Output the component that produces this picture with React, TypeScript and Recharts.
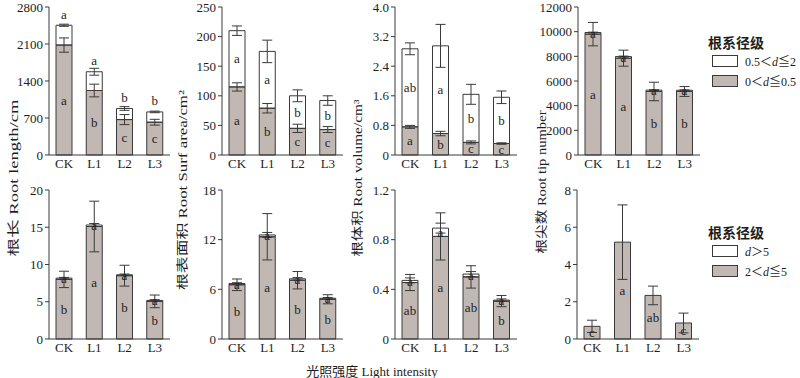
import { ComposedChart, Bar, ErrorBar, XAxis, YAxis } from 'recharts';

const FONT = "'Liberation Serif', 'Times New Roman', 'Noto Sans CJK SC', serif";
const GRAY = '#c1b8b3';
const EDGE = '#3a3a3a';
const INK = '#1e1e1e';
const Y_W = 45;

const CATS = ['CK', 'L1', 'L2', 'L3'];

// top row: 0<d≤0.5 (gray) + 0.5<d≤2 (white)
const lenFine = [2080, 1220, 670, 620];
const lenFineErr = [135, 120, 95, 55];
const lenCoarse = [375, 355, 210, 195];
const lenCoarseErr = [20, 65, 35, 15];
const lenFineLet = ['a', 'b', 'c', 'c'];
const lenCoarseLet = ['a', 'a', 'b', 'b'];

const areaFine = [115, 79, 45, 43];
const areaFineErr = [7, 8, 7, 5];
const areaCoarse = [95, 96, 55, 49];
const areaCoarseErr = [8, 19, 10, 8];
const areaFineLet = ['a', 'b', 'c', 'c'];
const areaCoarseLet = ['a', 'a', 'b', 'b'];

const volFine = [0.76, 0.58, 0.34, 0.31];
const volFineErr = [0.04, 0.06, 0.04, 0.02];
const volCoarse = [2.11, 2.37, 1.3, 1.25];
const volCoarseErr = [0.16, 0.58, 0.27, 0.17];
const volFineLet = ['a', 'b', 'c', 'c'];
const volCoarseLet = ['ab', 'a', 'b', 'b'];

const tipFine = [9800, 7850, 5150, 5150];
const tipFineErr = [950, 650, 750, 400];
const tipCoarse = [130, 130, 110, 100];
const tipCoarseErr = [30, 40, 30, 30];
const tipFineLet = ['a', 'a', 'b', 'b'];
const tipCoarseLet = ['a', 'a', 'a', 'a'];

// bottom row: 2<d≤5 (gray) + d>5 (white)
const len2Fine = [8.0, 15.1, 8.5, 5.05];
const len2FineErr = [1.1, 3.4, 1.4, 0.85];
const len2Coarse = [0.17, 0.2, 0.12, 0.13];
const len2CoarseErr = [0.1, 0.2, 0.1, 0.1];
const len2FineLet = ['b', 'a', 'b', 'b'];
const len2CoarseLet = ['a', 'a', 'a', 'a'];

const area2Fine = [6.55, 12.35, 7.1, 4.8];
const area2FineErr = [0.7, 2.8, 1.05, 0.55];
const area2Coarse = [0.15, 0.22, 0.17, 0.12];
const area2CoarseErr = [0.1, 0.3, 0.15, 0.1];
const area2FineLet = ['b', 'a', 'b', 'b'];
const area2CoarseLet = ['a', 'a', 'a', 'a'];

const vol2Fine = [0.455, 0.826, 0.5, 0.305];
const vol2FineErr = [0.065, 0.19, 0.09, 0.045];
const vol2Coarse = [0.017, 0.067, 0.023, 0.008];
const vol2CoarseErr = [0.02, 0.04, 0.02, 0.01];
const vol2FineLet = ['ab', 'a', 'ab', 'b'];
const vol2CoarseLet = ['a', 'a', 'a', 'a'];

const tip2Fine = [0.68, 5.2, 2.34, 0.86];
const tip2FineErr = [0.33, 2.0, 0.5, 0.53];
const tip2Coarse = [0, 0, 0, 0];
const tip2FineLet = ['c', 'a', 'ab', 'c'];
const tip2CoarseLet = ['', '', '', ''];

const TICKS = {
  len: [0, 700, 1400, 2100, 2800],
  area: [0, 50, 100, 150, 200, 250],
  vol: [0, 0.8, 1.6, 2.4, 3.2, 4.0],
  tip: [0, 2000, 4000, 6000, 8000, 10000, 12000],
  len2: [0, 5, 10, 15, 20],
  area2: [0, 6, 12, 18],
  vol2: [0, 0.4, 0.8, 1.2],
  tip2: [0, 2, 4, 6, 8],
};

const letterLabel = (letters: string[], pos: 'center' | 'top') => (p: any) => {
  const { x, y, width, height, index } = p;
  const t = letters[index];
  if (!t) return <g key={`e-${index}`} />;
  const cy = pos === 'top' ? y - 11 : y + height / 2;
  return (
    <text key={`l-${index}`} x={x + width / 2} y={cy} textAnchor="middle" dominantBaseline="central"
      fontFamily={FONT} fontSize={13} fill={INK} stroke="none">{t}</text>
  );
};

function Panel({
  left, top, plotW, plotH, ticks, decimals, fine, fineErr, coarse, coarseErr, fineLet, coarseLet, coarsePos = 'center',
}: {
  left: number; top: number; plotW: number; plotH: number; ticks: number[]; decimals: number;
  fine: number[]; fineErr: number[]; coarse: number[]; coarseErr?: number[];
  fineLet: string[]; coarseLet: string[]; coarsePos?: 'center' | 'top';
}) {
  const data = CATS.map((name, i) => ({
    name, fine: fine[i], fineErr: fineErr[i], coarse: coarse[i], coarseErr: coarseErr ? coarseErr[i] : 0,
  }));
  const W = Y_W + plotW + 3;
  const H = 15 + plotH + 22;
  const max = ticks[ticks.length - 1];
  return (
    <div style={{ position: 'absolute', left: left - Y_W, top: top - 15 }}>
      <ComposedChart width={W} height={H} data={data} margin={{ top: 15, right: 3, bottom: 0, left: 0 }} barSize={16}>
        <XAxis dataKey="name" height={22} interval={0} tickLine={false} tickSize={0} tickMargin={4}
          axisLine={{ stroke: EDGE }} tick={{ fill: INK, fontSize: 13, fontFamily: FONT }} />
        <YAxis width={Y_W} domain={[0, max]} ticks={ticks} interval={0} tickSize={4} tickMargin={2}
          axisLine={{ stroke: EDGE }} tickLine={{ stroke: EDGE }}
          tick={{ fill: INK, fontSize: 13, fontFamily: FONT }}
          tickFormatter={(v: number) => (v === 0 ? '0' : v.toFixed(decimals))} />
        <Bar dataKey="fine" stackId="s" fill={GRAY} stroke={EDGE} strokeWidth={1} isAnimationActive={false}
          label={letterLabel(fineLet, 'center')}>
          <ErrorBar dataKey="fineErr" width={5} stroke={EDGE} strokeWidth={1} />
        </Bar>
        <Bar dataKey="coarse" stackId="s" fill="none" stroke={EDGE} strokeWidth={1} isAnimationActive={false}
          label={letterLabel(coarseLet, coarsePos)}>
          {coarseErr && <ErrorBar dataKey="coarseErr" width={5} stroke={EDGE} strokeWidth={1} />}
        </Bar>
      </ComposedChart>
    </div>
  );
}

function LegendBlock({ top, items }: { top: number; items: { fill: string; label: React.ReactNode }[] }) {
  return (
    <div style={{ position: 'absolute', left: 708, top, fontFamily: FONT, color: INK }}>
      <div style={{ fontSize: 14, fontWeight: 600, lineHeight: '16px', fontFamily: "'Noto Sans CJK SC', sans-serif" }}>根系径级</div>
      {items.map((it, i) => (
        <div key={i} style={{ display: 'flex', alignItems: 'center', marginTop: i === 0 ? 5 : 9, height: 11, whiteSpace: 'nowrap' }}>
          <div style={{ width: 24, height: 10, marginLeft: 4, background: it.fill, border: `1px solid ${EDGE}` }} />
          <span style={{ marginLeft: 7, fontSize: 12 }}>{it.label}</span>
        </div>
      ))}
    </div>
  );
}

const YTITLES = [
  { x: 14, y: 178, len: 157, text: '根长 Root length/cm' },
  { x: 183, y: 190, len: 200, text: '根表面积 Root Surf area/cm²' },
  { x: 358, y: 178, len: 157, text: '根体积 Root volume/cm³' },
  { x: 542, y: 182, len: 143, text: '根尖数 Root tip number' },
];

export default function App() {
  const d = <i>d</i>;
  return (
    <div style={{ position: 'absolute', left: 0, top: 0, width: 800, height: 378, background: '#fff', overflow: 'hidden' }}>
      <Panel left={49} top={7} plotW={121} plotH={148} ticks={TICKS.len} decimals={0}
        fine={lenFine} fineErr={lenFineErr} coarse={lenCoarse} coarseErr={lenCoarseErr}
        fineLet={lenFineLet} coarseLet={lenCoarseLet} coarsePos="top" />
      <Panel left={222} top={7} plotW={121} plotH={148} ticks={TICKS.area} decimals={0}
        fine={areaFine} fineErr={areaFineErr} coarse={areaCoarse} coarseErr={areaCoarseErr}
        fineLet={areaFineLet} coarseLet={areaCoarseLet} />
      <Panel left={395} top={7} plotW={122} plotH={148} ticks={TICKS.vol} decimals={1}
        fine={volFine} fineErr={volFineErr} coarse={volCoarse} coarseErr={volCoarseErr}
        fineLet={volFineLet} coarseLet={volCoarseLet} />
      <Panel left={578} top={7} plotW={122} plotH={148} ticks={TICKS.tip} decimals={0}
        fine={tipFine} fineErr={tipFineErr} coarse={tipCoarse} coarseErr={tipCoarseErr}
        fineLet={tipFineLet} coarseLet={tipCoarseLet} />

      <Panel left={49} top={190} plotW={121} plotH={149} ticks={TICKS.len2} decimals={0}
        fine={len2Fine} fineErr={len2FineErr} coarse={len2Coarse} coarseErr={len2CoarseErr}
        fineLet={len2FineLet} coarseLet={len2CoarseLet} />
      <Panel left={222} top={190} plotW={121} plotH={149} ticks={TICKS.area2} decimals={0}
        fine={area2Fine} fineErr={area2FineErr} coarse={area2Coarse} coarseErr={area2CoarseErr}
        fineLet={area2FineLet} coarseLet={area2CoarseLet} />
      <Panel left={395} top={190} plotW={122} plotH={149} ticks={TICKS.vol2} decimals={1}
        fine={vol2Fine} fineErr={vol2FineErr} coarse={vol2Coarse} coarseErr={vol2CoarseErr}
        fineLet={vol2FineLet} coarseLet={vol2CoarseLet} />
      <Panel left={577} top={190} plotW={122} plotH={149} ticks={TICKS.tip2} decimals={0}
        fine={tip2Fine} fineErr={tip2FineErr} coarse={tip2Coarse}
        fineLet={tip2FineLet} coarseLet={tip2CoarseLet} />

      <svg width={800} height={378} style={{ position: 'absolute', left: 0, top: 0, pointerEvents: 'none' }}>
        {YTITLES.map((t) => (
          <text key={t.text} x={t.x} y={t.y} transform={`rotate(-90 ${t.x} ${t.y})`} textAnchor="middle"
            dominantBaseline="central" fontFamily={FONT} fontSize={12.5} fill={INK}
            textLength={t.len} lengthAdjust="spacingAndGlyphs">{t.text}</text>
        ))}
        <text x={372} y={371} textAnchor="middle" dominantBaseline="central" fontFamily={FONT} fontSize={13} fill={INK}>
          光照强度 Light intensity
        </text>
      </svg>

      <LegendBlock top={34} items={[
        { fill: '#fff', label: <>0.5＜{d}≦2</> },
        { fill: GRAY, label: <>0＜{d}≦0.5</> },
      ]} />
      <LegendBlock top={224} items={[
        { fill: '#fff', label: <>{d}＞5</> },
        { fill: GRAY, label: <>2＜{d}≦5</> },
      ]} />
    </div>
  );
}
